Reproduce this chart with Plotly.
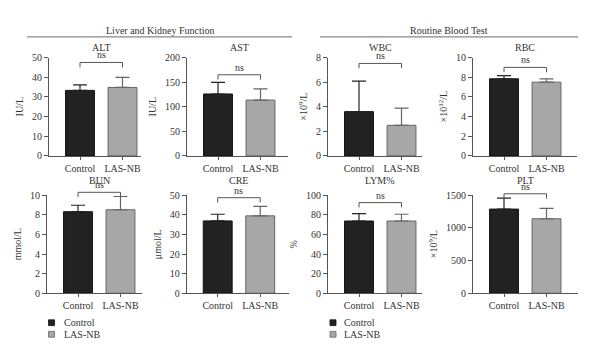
import plotly.graph_objects as go

# ---------------- data ----------------
groups = ["Control", "LAS-NB"]
panels = ["ALT", "AST", "BUN", "CRE", "WBC", "RBC", "LYM%", "PLT"]
units = ["IU/L", "IU/L", "mmol/L", "μmol/L",
         "×10<sup>9</sup>/L", "×10<sup>12</sup>/L", "%", "×10<sup>9</sup>/L"]
control_mean = [33.3, 125.9, 8.32, 36.9, 3.6, 7.84, 73.7, 1288]
control_sd = [2.8, 23.6, 0.66, 3.4, 2.48, 0.32, 7.5, 167]
lasnb_mean = [34.8, 113.5, 8.52, 39.5, 2.49, 7.50, 73.7, 1140]
lasnb_sd = [5.1, 22.8, 1.35, 4.8, 1.39, 0.34, 6.9, 158]
y_max = [50, 200, 10, 50, 8, 10, 100, 1500]
y_dtick = [10, 50, 2, 10, 2, 2, 20, 500]
sig_labels = ["ns"] * 8
section_titles = ["Liver and Kidney Function", "Routine Blood Test"]

# ---------------- layout geometry (pixels) ----------------
W, H = 600, 364
# axis left px, axis right px, row (0 top, 1 bottom)
geom = [(49, 141, 0), (187, 288, 0), (47, 141.5, 1), (186.7, 289, 1),
        (328, 422, 0), (473, 577, 0), (328, 422, 1), (473, 578, 1)]
rows = {0: (53.3, 155.0), 1: (195.7, 297.0)}
title_y = {0: 42.5, 1: 180.0}
# bracket top position (fraction of y max)
bracket_top = [0.95, 0.825, 1.03, 0.975, 0.94, 0.90, 0.925, 1.015]
UNIT_PX = 42.5
LEFT_PX = 31.0
BAR_W = 0.68

FONT = "Liberation Serif"
TXT = "#333333"
AXC = "#555555"
DARK = "#222222"
GRAY = "#a7a7a7"

def py(px):
    return 1 - px / H

fig = go.Figure()
shapes = []
annotations = []

for i, name in enumerate(panels):
    x0, x1, row = geom[i]
    ytop, ybot = rows[row]
    ax = "" if i == 0 else str(i + 1)
    r0 = -LEFT_PX / UNIT_PX
    r1 = (x1 - x0 - LEFT_PX) / UNIT_PX
    xdom = [x0 / W, x1 / W]
    ydom = [py(ybot), py(ytop)]

    fig.add_trace(go.Bar(
        x=[groups[0]], y=[control_mean[i]], width=BAR_W,
        marker=dict(color=DARK, line=dict(color="#111111", width=1)),
        error_y=dict(type="data", symmetric=False, array=[control_sd[i]],
                     arrayminus=[0], color="#222222", thickness=1.2, width=7),
        xaxis="x" + ax, yaxis="y" + ax, showlegend=False))
    fig.add_trace(go.Bar(
        x=[groups[1]], y=[lasnb_mean[i]], width=BAR_W,
        marker=dict(color=GRAY, line=dict(color="#666666", width=1)),
        error_y=dict(type="data", symmetric=False, array=[lasnb_sd[i]],
                     arrayminus=[0], color="#666666", thickness=1.2, width=7),
        xaxis="x" + ax, yaxis="y" + ax, showlegend=False))

    fig.layout["xaxis" + ax] = dict(
        domain=xdom, anchor="y" + ax, type="category",
        categoryorder="array", categoryarray=groups, range=[r0, r1],
        showline=True, linecolor=AXC, linewidth=1, ticks="outside",
        ticklen=3, tickcolor=AXC, showgrid=False, zeroline=False,
        tickfont=dict(family=FONT, size=10, color=TXT), fixedrange=True)
    fig.layout["yaxis" + ax] = dict(
        domain=ydom, anchor="x" + ax, range=[0, y_max[i]], dtick=y_dtick[i],
        showline=True, linecolor=AXC, linewidth=1, ticks="outside",
        ticklen=4, tickcolor=AXC, showgrid=False, zeroline=False,
        tickfont=dict(family=FONT, size=10, color=TXT),
        title=dict(text=units[i], font=dict(family=FONT, size=10, color=TXT),
                   standoff=6), fixedrange=True)

    # paper positions of the two categories
    f0 = (0 - r0) / (r1 - r0)
    f1 = (1 - r0) / (r1 - r0)
    cx0 = (x0 + f0 * (x1 - x0)) / W
    cx1 = (x0 + f1 * (x1 - x0)) / W
    yb = ydom[0] + bracket_top[i] * (ydom[1] - ydom[0])
    drop = 5 / H
    shapes.append(dict(type="path", xref="paper", yref="paper",
                       path=f"M {cx0} {yb - drop} L {cx0} {yb} L {cx1} {yb} L {cx1} {yb - drop}",
                       line=dict(color=AXC, width=1)))
    annotations.append(dict(text=sig_labels[i], xref="paper", yref="paper",
                            x=(cx0 + cx1) / 2, y=yb, yshift=0,
                            xanchor="center", yanchor="bottom",
                            showarrow=False,
                            font=dict(family=FONT, size=10, color=TXT)))
    annotations.append(dict(text=name, xref="paper", yref="paper",
                            x=(cx0 + cx1) / 2, y=py(title_y[row]),
                            xanchor="center", yanchor="middle",
                            showarrow=False,
                            font=dict(family=FONT, size=10, color=TXT)))

# section headers
for title, (lx0, lx1, cx) in zip(section_titles, [(27, 292, 160), (320, 578, 449)]):
    annotations.append(dict(text=title, xref="paper", yref="paper",
                            x=cx / W, y=py(25), xanchor="center",
                            yanchor="middle", showarrow=False,
                            font=dict(family=FONT, size=10, color=TXT)))
    shapes.append(dict(type="line", xref="paper", yref="paper",
                       x0=lx0 / W, x1=lx1 / W, y0=py(32), y1=py(32),
                       line=dict(color="#888888", width=1.2)))

# legends
for mx, tx in [(51.5, 61.5), (333, 342)]:
    for g, (yy, fc, lc) in zip(groups, [(327.5, DARK, "#111111"),
                                         (339.5, GRAY, "#666666")]):
        shapes.append(dict(type="rect", xref="paper", yref="paper",
                           x0=(mx - 3) / W, x1=(mx + 3) / W,
                           y0=py(yy + 3), y1=py(yy - 3),
                           fillcolor=fc, line=dict(color=lc, width=0.8)))
        annotations.append(dict(text=g, xref="paper", yref="paper",
                                x=tx / W, y=py(yy), xanchor="left",
                                yanchor="middle", showarrow=False,
                                font=dict(family=FONT, size=10, color=TXT)))

fig.update_layout(
    width=W, height=H, margin=dict(l=0, r=0, t=0, b=0), autosize=False,
    paper_bgcolor="white", plot_bgcolor="white", barmode="overlay",
    showlegend=False, shapes=shapes, annotations=annotations,
    font=dict(family=FONT, size=10, color=TXT))

fig.write_html("out.html",
               config={"displayModeBar": False, "staticPlot": True},
               post_script="document.body.style.margin='0px';")
